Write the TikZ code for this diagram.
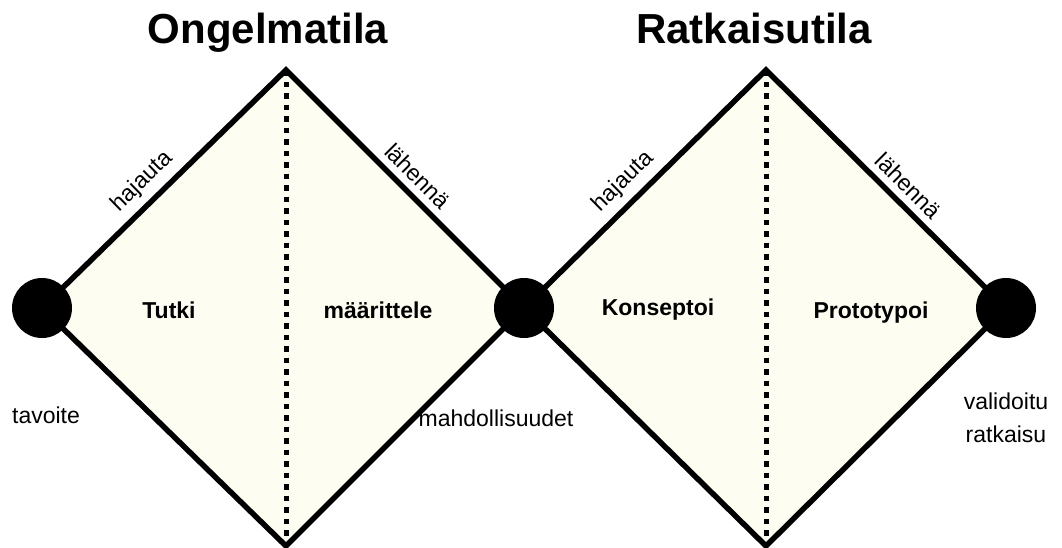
\documentclass[tikz,border=0pt]{standalone}
\usepackage{fontspec}
\setmainfont{Liberation Sans}
\usepackage{xcolor}
\usepackage{tikz}
\usetikzlibrary{positioning,calc}

\definecolor{spacefill}{HTML}{FEFDF2}

\begin{document}
\begin{tikzpicture}[
    x=1pt, y=-1pt,
    diamond_line/.style={line width=5.5pt, line join=miter},
    split_line/.style={line width=5pt, dash pattern=on 5.5pt off 6pt},
    dot_node/.style={circle, fill=black, minimum size=60pt, inner sep=0pt},
    phase_lbl/.style={anchor=base, font=\bfseries\fontsize{23}{26}\selectfont},
    title_lbl/.style={anchor=base, font=\bfseries\fontsize{42}{48}\selectfont},
    edge_lbl/.style={font=\fontsize{23}{26}\selectfont, sloped, above, inner sep=7pt},
    end_lbl/.style={anchor=base, font=\fontsize{23}{33}\selectfont, align=center}
]
\useasboundingbox (0,0) rectangle (1062,547);

% corners of the two diamonds
\coordinate (p_left)  at (42,308);
\coordinate (p_top)   at (286,70);
\coordinate (p_bot)   at (286,546);
\coordinate (p_mid)   at (524,308);
\coordinate (s_top)   at (766,70);
\coordinate (s_bot)   at (766,546);
\coordinate (s_right) at (1006,308);

\fill[spacefill] (p_left) -- (p_top) -- (p_mid) -- (p_bot) -- cycle;
\fill[spacefill] (p_mid) -- (s_top) -- (s_right) -- (s_bot) -- cycle;

\draw[split_line] (p_top) -- (p_bot);
\draw[split_line] (s_top) -- (s_bot);

\draw[diamond_line] (p_left) -- node[edge_lbl, pos=0.47] {hajauta} (p_top)
    -- node[edge_lbl, pos=0.5] {lähennä} (p_mid) -- (p_bot) -- cycle;
\draw[diamond_line] (p_mid) -- node[edge_lbl, pos=0.47] {hajauta} (s_top)
    -- node[edge_lbl, pos=0.54] {lähennä} (s_right) -- (s_bot) -- cycle;

\node (goal)     [dot_node] at (p_left) {};
\node (options)  [dot_node] at (p_mid) {};
\node (solution) [dot_node] at (s_right) {};

\node (problem_title)  [title_lbl] at (268,43) {Ongelmatila};
\node (solution_title) [title_lbl] at (754,43) {Ratkaisutila};

\node (tutki)      [phase_lbl] at (169,318) {Tutki};
\node (maarittele) [phase_lbl] at (378,318) {määrittele};
\node (konseptoi)  [phase_lbl] at (658,315) {Konseptoi};
\node (prototypoi) [phase_lbl] at (871,318) {Prototypoi};

\node (goal_lbl)     [end_lbl] at (46,423)   {tavoite};
\node (options_lbl)  [end_lbl] at (496,426)  {mahdollisuudet};
\node (solution_lbl) [end_lbl] at (1006,442) {validoitu\\ratkaisu};

\end{tikzpicture}
\end{document}
